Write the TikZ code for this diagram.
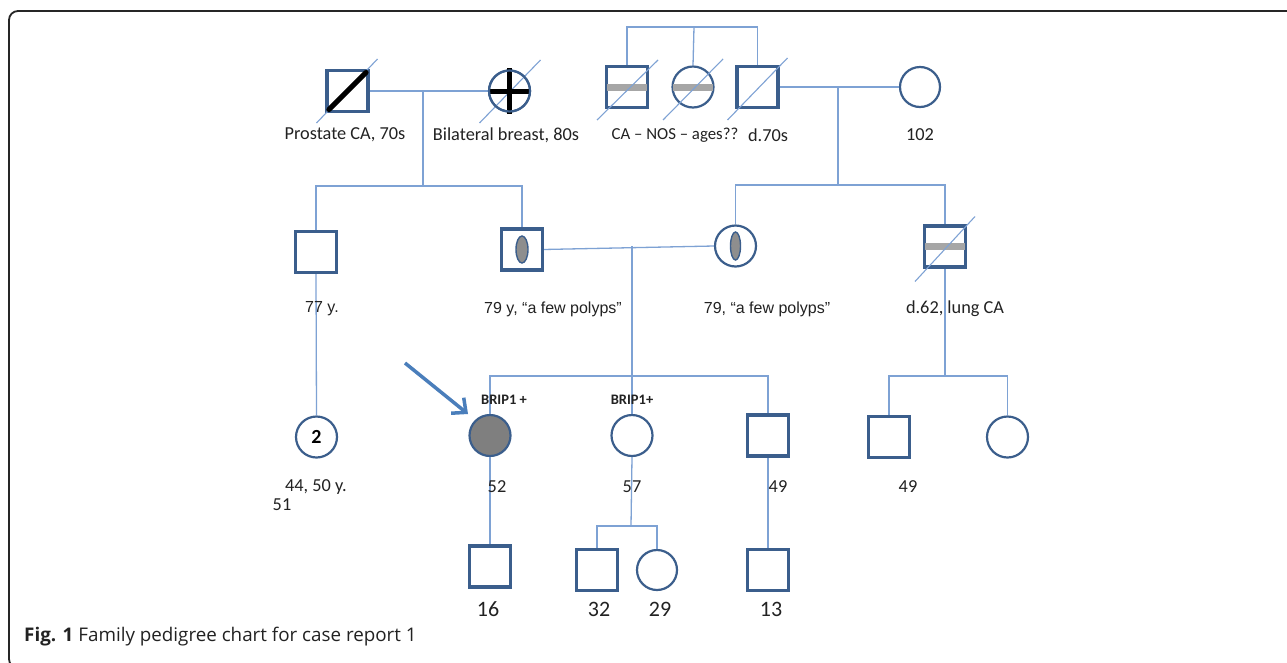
\documentclass[tikz,border=0pt]{standalone}
\usepackage{fontspec}
\setmainfont{Carlito}
\newfontfamily\arialfont{Liberation Sans}
\newfontfamily\capfont{Open Sans}
\usetikzlibrary{arrows.meta}
\definecolor{connc}{HTML}{7EA2D4}
\definecolor{edgec}{HTML}{3B5E8C}
\definecolor{barc}{HTML}{A6A6A6}
\definecolor{probc}{HTML}{7F7F7F}
\definecolor{arrc}{HTML}{4A7EBB}
\definecolor{txtc}{HTML}{222222}
\definecolor{ellc}{HTML}{8E8E8E}
\tikzset{
  male/.style={draw=edgec, line width=2.2, minimum size=40, inner sep=0, rectangle, fill=white},
  female/.style={draw=edgec, line width=2.2, minimum size=41, inner sep=0, circle, fill=white},
  conn/.style={draw=connc, line width=1.3},
  lbl/.style={font=\fontsize{18.3}{20}\selectfont, text=txtc, inner sep=0},
  albl/.style={font=\arialfont\fontsize{16}{18}\selectfont, text=txtc, inner sep=0},
  big/.style={font=\fontsize{22}{24}\selectfont, text=txtc, inner sep=0},
  brip/.style={font=\bfseries\fontsize{14.5}{16}\selectfont, text=txtc, inner sep=0},
  barline/.style={draw=barc, line width=7},
  blackline/.style={draw=black, line width=5},
  deceased/.style={draw=connc, line width=1.1},
}
\begin{document}
\begin{tikzpicture}[x=1pt,y=-1pt]
\useasboundingbox (0,0) rectangle (1287,662);
\clip (0,0) rectangle (1287,662);
\fill[white] (0,0) rectangle (1287,662);
% frame
\draw[line width=1.8, draw=black!85, rounded corners=9] (1300,11) -- (9,11) -- (9,668) -- (40,668);

% junction coordinates
\coordinate (c1) at (423,91);
\coordinate (c1j) at (423,186);
\coordinate (t1) at (694,27);
\coordinate (c2) at (838,87);
\coordinate (c2j) at (838,185);
\coordinate (c3) at (632,246);
\coordinate (c3j) at (632,376);
\coordinate (c4j) at (945,376);
\coordinate (c5j) at (631,526);

% generation I
\node[male] (m1) at (347.5,91) {};
\node[female] (f1) at (509.5,91) {};
\node[male] (m2) at (627,87) {};
\node[female] (f2) at (693,87) {};
\node[male] (m3) at (757.5,87) {};
\node[female, minimum size=40] (f3) at (920,87) {};
% generation II
\node[male] (m4) at (316,252) {};
\node[male] (m5) at (522,249.5) {};
\node[female] (f4) at (735.5,246) {};
\node[male] (m6) at (945,246.5) {};
% generation III
\node[female] (f9) at (316.5,437) {};
\node[female, fill=probc] (f5) at (490,435.5) {};
\node[female] (f6) at (632,435.5) {};
\node[male] (m7) at (768,435.5) {};
\node[male] (m8) at (889,437) {};
\node[female] (f7) at (1007.5,437) {};
% generation IV
\node[male] (m9) at (490,566.5) {};
\node[male] (m10) at (597,570) {};
\node[female, minimum size=40] (f8) at (657,570) {};
\node[male] (m11) at (768,570) {};

% connectors
\begin{scope}[conn]
\draw (m1.east) -- (f1.west);
\draw (c1) -- (c1j);
\draw (m4.north) |- (c1j) -| (m5.north);
\draw (m2.north) |- (t1) -| (m3.north);
\draw (t1) -- (f2.north);
\draw (m3.east) -- (f3.west);
\draw (c2) -- (c2j);
\draw (f4.north) |- (c2j) -| (m6.north);
\draw (m5.east) -- (f4.west);
\draw (c3) -- (f6.north);
\draw (f5.north) |- (c3j) -| (m7.north);
\draw (m4.south) -- (f9.north);
\draw (m6.south) -- (c4j);
\draw (m8.north) |- (c4j) -| (f7.north);
\draw (f5.south) -- (m9.north);
\draw (f6.south) -- (c5j);
\draw (m10.north) |- (c5j) -| (f8.north);
\draw (m7.south) -- (m11.north);
\end{scope}

% redraw shapes over connectors
\foreach \n in {m1,m2,m3,m4,m5,m6,m7,m8,m9,m10,m11}{\draw[edgec, line width=2.2] (\n.south west) rectangle (\n.north east);}

% grey bars
\draw[barline] ([xshift=1.5]m2.west) -- ([xshift=-1.5]m2.east);
\draw[barline] ([xshift=1.5]f2.west) -- ([xshift=-1.5]f2.east);
\draw[barline] ([xshift=1.5]m6.west) -- ([xshift=-1.5]m6.east);
\fill[ellc, draw=edgec, line width=1.4] (m5.center) ellipse [x radius=6, y radius=13.5];
\fill[ellc, draw=edgec, line width=1.4] (f4.center) ellipse [x radius=5, y radius=14];

% deceased lines
\draw[deceased] ([shift={(-31,32)}]m1.center) -- ([shift={(30,-32)}]m1.center);
\draw[deceased] ([shift={(-30,32)}]f1.center) -- ([shift={(31,-31)}]f1.center);
\draw[deceased] ([shift={(-30,33)}]m2.center) -- ([shift={(31,-27)}]m2.center);
\draw[deceased] ([shift={(-30,33)}]f2.center) -- ([shift={(30,-28)}]f2.center);
\draw[deceased] ([shift={(-30,33)}]m3.center) -- ([shift={(30,-29)}]m3.center);
\draw[deceased] ([shift={(-30,35)}]m6.center) -- ([shift={(30,-30)}]m6.center);

% black markings on top
\draw[blackline, line cap=round] ([shift={(2.5,-2.5)}]m1.south west) -- ([shift={(-2.5,2.5)}]m1.north east);
\draw[blackline] ([xshift=1]f1.west) -- ([xshift=-1]f1.east);
\draw[blackline] ([yshift=1]f1.north) -- ([yshift=-1]f1.south);
\draw[edgec, line width=2.2] (f1.center) circle (20.5);

% proband arrow
\coordinate (a0) at (405,363);
\coordinate (a1) at (468,414);
\draw[arrc, line width=3.5, -{Straight Barb[length=11,width=20,line width=3.5]}] (a0) -- (a1);

% labels
\node[lbl] (l1) at (345,135) {Prostate CA, 70s};
\node[lbl] (l2) at (506,135) {Bilateral breast, 80s};
\node[lbl, font=\fontsize{16.8}{19}\selectfont] (l3) at (675,135) {CA – NOS – ages??};
\node[lbl] (l4) at (768,135) {d.70s};
\node[lbl] (l5) at (920,135) {102};
\node[albl, anchor=west] (l6) at (305,309) {77 y.};
\node[albl] (l7) at (553,309) {79 y, “a few polyps”};
\node[albl] (l8) at (767,309) {79, “a few polyps”};
\node[lbl] (l9) at (955,309) {d.62, lung CA};
\node[font=\bfseries\fontsize{20}{22}\selectfont, inner sep=0] (two) at (f9.center) {2};
\node[brip] (b1) at (504,400) {BRIP1 +};
\node[brip] (b2) at (632,400) {BRIP1+};
\node[lbl] (l10) at (316,487) {44, 50 y.};
\node[lbl] (l11) at (282,505) {51};
\node[lbl] (l12) at (497,487) {52};
\node[lbl] (l13) at (632,487) {57};
\node[lbl] (l14) at (778,487) {49};
\node[lbl] (l15) at (908,487) {49};
\node[big] (l16) at (488,609) {16};
\node[big] (l17) at (599,609) {32};
\node[big] (l18) at (660,609) {29};
\node[big] (l19) at (771,609) {13};
\node[font=\capfont\fontsize{18.8}{20}\selectfont, text=txtc, anchor=west, inner sep=0] (cap) at (24,637) {\textbf{Fig. 1} Family pedigree chart for case report 1};
\end{tikzpicture}
\end{document}
